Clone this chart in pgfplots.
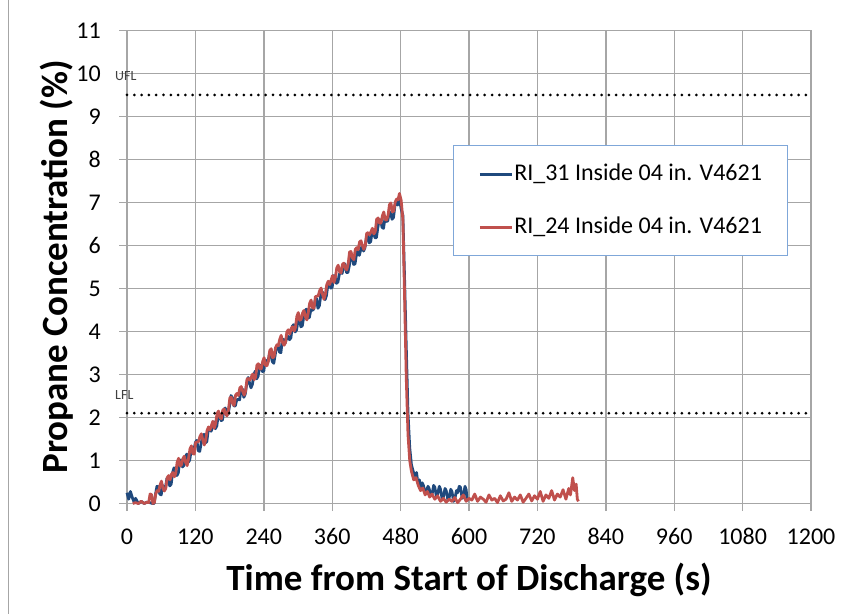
\documentclass[border=0pt]{standalone}
\usepackage{pgfplots}
\pgfplotsset{compat=1.18}
\usepackage{fontspec}
\setmainfont{Carlito}
\definecolor{sblue}{HTML}{1F497D}
\definecolor{sred}{HTML}{C0504D}
\definecolor{gridc}{HTML}{A6A6A6}
\definecolor{legc}{HTML}{7FA7D9}
\begin{document}
\begin{tikzpicture}
\begin{axis}[
  scale only axis,
  width=684bp, height=473bp,
  xmin=0, xmax=1200, ymin=0, ymax=11,
  xtick={0,120,...,1200}, ytick={0,1,...,11},
  grid=major,
  major grid style={color=gridc, line width=1.4bp},
  axis line style={color=gridc, line width=1.4bp},
  tick style={color=gridc, line width=1.4bp},
  major tick length=7.7bp,
  tick align=outside,
  xtick pos=bottom, ytick pos=left,
  xticklabel shift=14bp, yticklabel shift=15bp,
  /pgf/number format/assume math mode=true,
  /pgf/number format/1000 sep={},
  ticklabel style={font=\fontsize{24bp}{28bp}\selectfont, text=black},
  xticklabel style={text height=16bp, text depth=0bp},
  xlabel={\textbf{Time from Start of Discharge (s)}},
  ylabel={\textbf{Propane Concentration (\%)}},
  label style={font=\fontsize{37bp}{42bp}\selectfont},
  xlabel style={at={(axis description cs:0.5,-0.184)}, anchor=base},
  ylabel style={at={(axis description cs:-0.0863,0.5)}, anchor=base, rotate=0},
  clip=false,
  legend image code/.code={\draw[#1] (0bp,0bp) -- (32bp,0bp);},
  legend style={at={(rel axis cs:0.4766,0.757)}, anchor=north west,
    draw=legc, line width=1bp, fill=white,
    font=\fontsize{24bp}{28bp}\selectfont,
    inner xsep=25bp, inner ysep=17.5bp, row sep=31bp, column sep=1bp,
    nodes={inner sep=0pt, text height=17bp, text depth=5bp}},
  legend cell align=left,
]
\addplot[sblue, line width=2.8bp, line join=round] table[row sep=\\] {
t v\\
0 0.25\\ 3 0.10\\ 6 0.28\\ 9 0.15\\ 12 0.05\\ 15 0.12\\ 20 0.00\\ 25 0.05\\ 30 0.00\\ 35 0.03\\
40 0.02\\ 45 0.00\\ 47.5 0.00\\ 50 0.21\\ 52.5 0.40\\ 55 0.39\\ 57.5 0.22\\ 60 0.20\\ 62.5 0.42\\ 65 0.36\\
67.5 0.37\\ 70 0.58\\ 72.5 0.56\\ 75 0.41\\ 77.5 0.45\\ 80 0.72\\ 82.5 0.83\\ 85 0.74\\ 87.5 0.65\\ 90 0.71\\
92.5 1.00\\ 95 1.01\\ 97.5 0.85\\ 100 0.89\\ 102.5 1.08\\ 105 1.15\\ 107.5 0.96\\ 110 1.01\\ 112.5 1.23\\ 115 1.24\\
117.5 1.25\\ 120 1.42\\ 122.5 1.47\\ 125 1.23\\ 127.5 1.21\\ 130 1.39\\ 132.5 1.56\\ 135 1.61\\ 137.5 1.41\\ 140 1.44\\
142.5 1.70\\ 145 1.75\\ 147.5 1.68\\ 150 1.77\\ 152.5 1.90\\ 155 1.74\\ 157.5 1.80\\ 160 2.05\\ 162.5 2.05\\ 165 1.93\\
167.5 1.94\\ 170 2.19\\ 172.5 2.22\\ 175 2.05\\ 177.5 2.09\\ 180 2.28\\ 182.5 2.51\\ 185 2.46\\ 187.5 2.27\\ 190 2.27\\
192.5 2.41\\ 195 2.42\\ 197.5 2.41\\ 200 2.64\\ 202.5 2.66\\ 205 2.47\\ 207.5 2.55\\ 210 2.78\\ 212.5 2.93\\ 215 2.80\\
217.5 2.69\\ 220 2.77\\ 222.5 2.99\\ 225 3.08\\ 227.5 2.90\\ 230 2.96\\ 232.5 3.19\\ 235 3.22\\ 237.5 3.07\\ 240 3.08\\
242.5 3.34\\ 245 3.31\\ 247.5 3.30\\ 250 3.49\\ 252.5 3.46\\ 255 3.30\\ 257.5 3.26\\ 260 3.46\\ 262.5 3.67\\ 265 3.68\\
267.5 3.52\\ 270 3.51\\ 272.5 3.81\\ 275 3.82\\ 277.5 3.73\\ 280 3.84\\ 282.5 3.89\\ 285 3.81\\ 287.5 3.85\\ 290 4.12\\
292.5 4.16\\ 295 3.99\\ 297.5 4.04\\ 300 4.25\\ 302.5 4.32\\ 305 4.11\\ 307.5 4.13\\ 310 4.34\\ 312.5 4.49\\ 315 4.52\\
317.5 4.31\\ 320 4.33\\ 322.5 4.51\\ 325 4.49\\ 327.5 4.52\\ 330 4.71\\ 332.5 4.77\\ 335 4.54\\ 337.5 4.60\\ 340 4.85\\
342.5 4.92\\ 345 4.87\\ 347.5 4.74\\ 350 4.84\\ 352.5 5.10\\ 355 5.15\\ 357.5 5.01\\ 360 5.03\\ 362.5 5.30\\ 365 5.29\\
367.5 5.12\\ 370 5.15\\ 372.5 5.33\\ 375 5.38\\ 377.5 5.35\\ 380 5.56\\ 382.5 5.57\\ 385 5.37\\ 387.5 5.37\\ 390 5.53\\
392.5 5.78\\ 395 5.74\\ 397.5 5.56\\ 400 5.57\\ 402.5 5.79\\ 405 5.88\\ 407.5 5.77\\ 410 5.90\\ 412.5 5.99\\ 415 5.87\\
417.5 5.95\\ 420 6.18\\ 422.5 6.26\\ 425 6.06\\ 427.5 6.09\\ 430 6.32\\ 432.5 6.31\\ 435 6.18\\ 437.5 6.18\\ 440 6.41\\
442.5 6.60\\ 445 6.59\\ 447.5 6.42\\ 450 6.40\\ 452.5 6.62\\ 455 6.56\\ 457.5 6.57\\ 460 6.78\\ 462.5 6.76\\ 465 6.61\\
467.5 6.65\\ 470 6.92\\ 472.5 7.03\\ 475 6.94\\ 478 7.08\\ 481 6.85\\ 484 6.70\\ 487 5.20\\ 490 3.60\\ 493 2.10\\
496 1.30\\ 499 0.90\\ 502 0.75\\ 505 0.65\\ 508 0.72\\ 510 0.50\\ 513 0.55\\ 515 0.38\\ 518 0.48\\ 520 0.42\\
523 0.25\\ 525 0.28\\ 528 0.40\\ 530 0.35\\ 533 0.18\\ 535 0.20\\ 538 0.42\\ 540 0.38\\ 543 0.15\\ 545 0.22\\
548 0.40\\ 550 0.33\\ 553 0.10\\ 555 0.15\\ 558 0.35\\ 560 0.30\\ 563 0.08\\ 565 0.12\\ 568 0.33\\ 570 0.28\\
573 0.05\\ 575 0.10\\ 578 0.30\\ 580 0.25\\ 583 0.40\\ 585 0.38\\ 588 0.12\\ 590 0.15\\ 593 0.40\\ 595 0.32\\ 597 0.05\\
};
\addlegendentry{RI\_31 Inside 04 in. V4621}
\addplot[sred, line width=2.8bp, line join=round] table[row sep=\\] {
t v\\
10 0.00\\ 15 0.02\\ 20 0.00\\ 25 0.05\\ 30 0.00\\ 35 0.03\\ 38 0.02\\ 40.5 0.22\\ 43 0.21\\ 45.5 0.00\\
48 0.02\\ 50.5 0.23\\ 53 0.30\\ 55.5 0.28\\ 58 0.43\\ 60.5 0.52\\ 63 0.35\\ 65.5 0.29\\ 68 0.35\\ 70.5 0.60\\
73 0.65\\ 75.5 0.55\\ 78 0.68\\ 80.5 0.72\\ 83 0.62\\ 85.5 0.70\\ 88 0.96\\ 90.5 1.05\\ 93 0.87\\ 95.5 0.90\\
98 1.04\\ 100.5 1.10\\ 103 0.95\\ 105.5 0.88\\ 108 1.05\\ 110.5 1.27\\ 113 1.34\\ 115.5 1.16\\ 118 1.15\\ 120.5 1.42\\
123 1.43\\ 125.5 1.44\\ 128 1.56\\ 130.5 1.62\\ 133 1.48\\ 135.5 1.36\\ 138 1.48\\ 140.5 1.70\\ 143 1.78\\ 145.5 1.71\\
148 1.81\\ 150.5 1.91\\ 153 1.75\\ 155.5 1.86\\ 158 2.09\\ 160.5 2.15\\ 163 2.00\\ 165.5 1.97\\ 168 2.17\\ 170.5 2.20\\
173 2.08\\ 175.5 2.04\\ 178 2.18\\ 180.5 2.46\\ 183 2.47\\ 185.5 2.32\\ 188 2.28\\ 190.5 2.52\\ 193 2.56\\ 195.5 2.51\\
198 2.69\\ 200.5 2.72\\ 203 2.61\\ 205.5 2.52\\ 208 2.61\\ 210.5 2.89\\ 213 2.91\\ 215.5 2.87\\ 218 2.94\\ 220.5 3.01\\
223 2.88\\ 225.5 2.93\\ 228 3.22\\ 230.5 3.25\\ 233 3.13\\ 235.5 3.13\\ 238 3.30\\ 240.5 3.39\\ 243 3.21\\ 245.5 3.20\\
248 3.31\\ 250.5 3.56\\ 253 3.60\\ 255.5 3.39\\ 258 3.41\\ 260.5 3.62\\ 263 3.69\\ 265.5 3.67\\ 268 3.82\\ 270.5 3.91\\
273 3.74\\ 275.5 3.68\\ 278 3.74\\ 280.5 3.99\\ 283 4.04\\ 285.5 3.94\\ 288 4.07\\ 290.5 4.11\\ 293 4.01\\ 295.5 4.09\\
298 4.35\\ 300.5 4.44\\ 303 4.26\\ 305.5 4.29\\ 308 4.43\\ 310.5 4.49\\ 313 4.34\\ 315.5 4.27\\ 318 4.44\\ 320.5 4.66\\
323 4.73\\ 325.5 4.55\\ 328 4.54\\ 330.5 4.81\\ 333 4.82\\ 335.5 4.83\\ 338 4.95\\ 340.5 5.01\\ 343 4.87\\ 345.5 4.75\\
348 4.87\\ 350.5 5.09\\ 353 5.17\\ 355.5 5.09\\ 358 5.19\\ 360.5 5.30\\ 363 5.14\\ 365.5 5.25\\ 368 5.48\\ 370.5 5.54\\
373 5.39\\ 375.5 5.36\\ 378 5.56\\ 380.5 5.59\\ 383 5.47\\ 385.5 5.43\\ 388 5.57\\ 390.5 5.85\\ 393 5.86\\ 395.5 5.71\\
398 5.67\\ 400.5 5.91\\ 403 5.95\\ 405.5 5.90\\ 408 6.08\\ 410.5 6.11\\ 413 6.00\\ 415.5 5.91\\ 418 6.00\\ 420.5 6.28\\
423 6.30\\ 425.5 6.25\\ 428 6.32\\ 430.5 6.40\\ 433 6.27\\ 435.5 6.32\\ 438 6.61\\ 440.5 6.64\\ 443 6.52\\ 445.5 6.52\\
448 6.69\\ 450.5 6.78\\ 453 6.60\\ 455.5 6.59\\ 458 6.70\\ 460.5 6.95\\ 463 6.99\\ 465.5 6.78\\ 468 6.80\\ 470.5 7.01\\
473 7.08\\ 475.5 7.06\\ 478 7.21\\ 481 7.05\\ 484 6.60\\ 487 4.80\\ 490 2.90\\ 493 1.60\\ 496 1.00\\ 499 0.75\\
503 0.55\\ 507 0.60\\ 511 0.42\\ 515 0.30\\ 519 0.36\\ 523 0.20\\ 527 0.28\\ 531 0.15\\ 535 0.22\\ 540 0.10\\
545 0.18\\ 550 0.05\\ 555 0.12\\ 560 0.03\\ 565 0.10\\ 570 0.05\\ 575 0.14\\ 580 0.02\\ 585 0.10\\ 590 0.20\\
595 0.05\\ 600 0.12\\ 605 0.08\\ 610 0.22\\ 615 0.05\\ 620 0.15\\ 625 0.10\\ 630 0.03\\ 635 0.20\\ 640 0.08\\
645 0.12\\ 650 0.02\\ 655 0.18\\ 660 0.06\\ 665 0.10\\ 670 0.25\\ 675 0.05\\ 680 0.15\\ 685 0.08\\ 690 0.20\\
695 0.03\\ 700 0.12\\ 705 0.22\\ 710 0.06\\ 715 0.18\\ 720 0.10\\ 725 0.28\\ 730 0.05\\ 735 0.20\\ 740 0.12\\
745 0.30\\ 750 0.08\\ 755 0.22\\ 760 0.15\\ 765 0.32\\ 770 0.10\\ 775 0.35\\ 778 0.20\\ 782 0.60\\ 785 0.30\\
788 0.45\\ 790 0.10\\ 792 0.05\\
};
\addlegendentry{RI\_24 Inside 04 in. V4621}
\addplot[black, line width=3bp, line cap=round, dash pattern=on 0bp off 7.3bp, forget plot] coordinates {(0,9.5)(1200,9.5)};
\addplot[black, line width=3bp, line cap=round, dash pattern=on 0bp off 7.3bp, forget plot] coordinates {(0,2.1)(1200,2.1)};
\node[anchor=west, inner sep=0pt, font=\fontsize{14bp}{16bp}\selectfont, text=black!75] at (axis cs:-21,9.95) {UFL};
\node[anchor=west, inner sep=0pt, font=\fontsize{14bp}{16bp}\selectfont, text=black!75] at (axis cs:-21,2.53) {LFL};
\end{axis}
\draw[gridc, line width=1bp] ([xshift=-118bp,yshift=-110bp]current axis.south west) -- ([xshift=-118bp,yshift=30bp]current axis.north west);
\path[use as bounding box] ([xshift=-127bp,yshift=-110bp]current axis.south west) rectangle ([xshift=30bp,yshift=30bp]current axis.north east);
\end{tikzpicture}
\end{document}
